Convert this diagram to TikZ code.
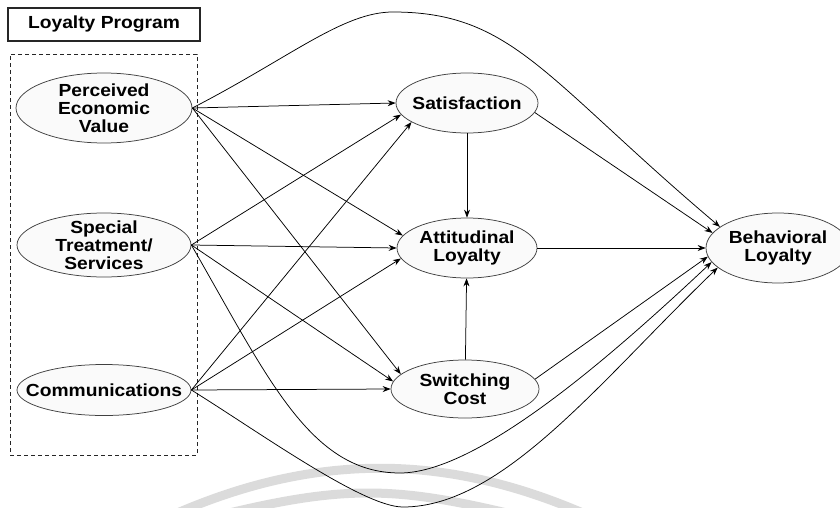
\documentclass[tikz,border=0pt]{standalone}
\usepackage{fontspec}
\setmainfont{Liberation Sans}[FakeStretch=1.1]
\usetikzlibrary{arrows.meta,shapes.geometric}
\newcommand\diagfont{\fontsize{17.5}{18}\selectfont\bfseries}
\begin{document}
\begin{tikzpicture}[x=1pt,y=-1pt,
  lat/.style={ellipse, draw=black!75, line width=0.75pt, fill=black!2,
    inner xsep=-20pt, inner ysep=-6pt, font=\diagfont, align=center},
  link/.style={draw=black, line width=0.75pt, -{Stealth[length=8pt,width=6pt]}},
  band/.style={draw=black!14, line width=9pt},
  groupbox/.style={draw=black!85, line width=0.8pt, dash pattern=on 4pt off 3pt},
  titlebox/.style={draw=black!85, line width=1.5pt, font=\diagfont}]
\useasboundingbox (0,0) rectangle (840,508);

% faint arcs along the lower edge
\draw[band] (175,514) .. controls (315,453) and (445,453) .. (585,514);
\draw[band] (225,514) .. controls (342,486) and (394,486) .. (511,514);

% program block
\node[titlebox, minimum width=192pt, minimum height=33pt, inner sep=0pt] (prog) at (104,24.5) {Loyalty Program};
\node[groupbox, minimum width=187pt, minimum height=401pt, inner sep=0pt] (grp) at (103.5,254.5) {};

% constructs
\node[lat, minimum width=176pt, minimum height=70pt] (pev) at (104,108) {Perceived\\Economic\\Value};
\node[lat, minimum width=174pt, minimum height=64pt] (spec) at (104,245) {Special\\Treatment/\\Services};
\node[lat, minimum width=174pt, minimum height=51pt] (comm) at (104,390) {Communications};
\node[lat, minimum width=142pt, minimum height=60pt] (sat) at (467,103) {Satisfaction};
\node[lat, minimum width=140pt, minimum height=60pt] (att) at (467,248) {Attitudinal\\Loyalty};
\node[lat, minimum width=148pt, minimum height=58pt] (sw) at (465,389) {Switching\\Cost};
\node[lat, minimum width=144pt, minimum height=70pt] (beh) at (778,248) {Behavioral\\Loyalty};

% program elements to mediators
\draw[link] (pev.east) -- (sat.west);
\draw[link] (pev.east) -- (att.169);
\draw[link] (pev.east) -- (sw.167);
\draw[link] (spec.east) -- (sat.190);
\draw[link] (spec.east) -- (att.west);
\draw[link] (spec.east) -- (sw.174);
\draw[link] (comm.east) -- (sat.199);
\draw[link] (comm.east) -- (att.189);
\draw[link] (comm.east) -- (sw.west);

% mediators
\draw[link] (sat) -- (att);
\draw[link] (sw) -- (att);
\draw[link] (sat.-8) -- (beh.167);
\draw[link] (att) -- (beh);
\draw[link] (sw.8) -- (beh.187);

% direct paths to behavioral loyalty
\draw[link] (pev.east) .. controls (291,57) and (343,12) .. (393,12)
  .. controls (513,12) and (545,79) .. (beh.160);
\draw[link] (spec.east) .. controls (268,378) and (310,473) .. (400,473)
  .. controls (480,473) and (618,350) .. (beh.192);
\draw[link] (comm.east) .. controls (259,432) and (363,507) .. (403,507)
  .. controls (503,507) and (600,381) .. (beh.198);
\end{tikzpicture}
\end{document}
